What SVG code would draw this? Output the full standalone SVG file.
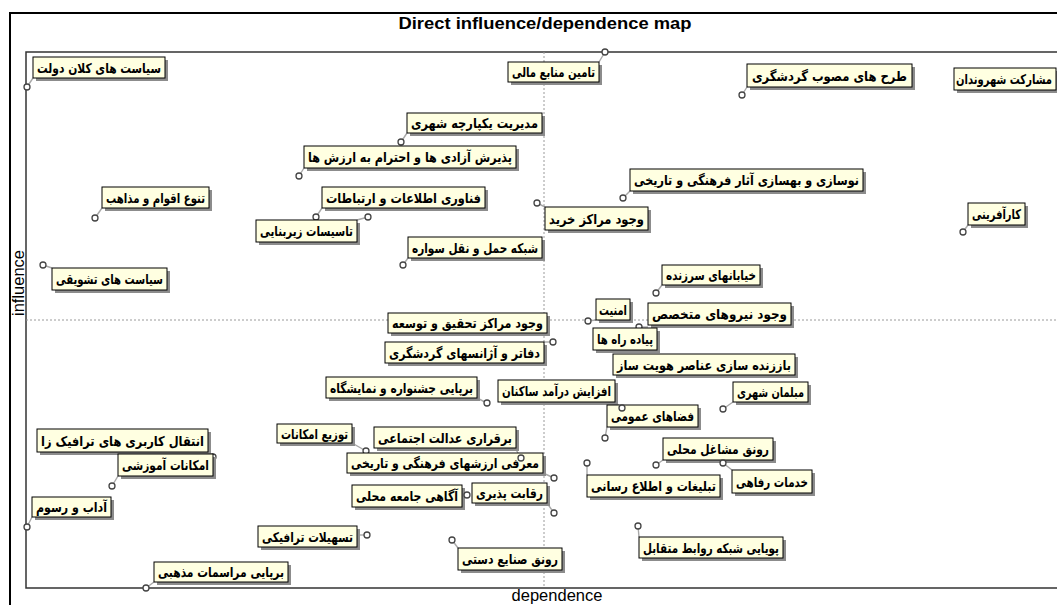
<svg xmlns="http://www.w3.org/2000/svg" width="1057" height="605" viewBox="0 0 1057 605">
<style>
.bg{fill:#fff}
.frame{fill:none;stroke:#000;stroke-width:2}
.plot{fill:none;stroke:#333;stroke-width:1.5}
.axis{stroke:#9a9a9a;stroke-width:1;stroke-dasharray:2,2}
.sh{fill:#8c8c8c}
.bx{fill:#FFFFE1;stroke:#000;stroke-width:1}
.t{font-family:"DejaVu Sans",sans-serif;font-size:13.5px;font-weight:bold;fill:#000;text-anchor:middle;direction:rtl}
.pt{fill:#fff;stroke:#444;stroke-width:1.3}
.ld{stroke:#a8a8a8;stroke-width:1.4}
.ttl{font-family:"Liberation Sans",Arial,sans-serif;font-weight:bold;font-size:16.5px;fill:#000;text-anchor:middle}
.ax{font-family:"Liberation Sans",Arial,sans-serif;font-size:16.5px;fill:#000;text-anchor:middle}
</style>
<rect class="bg" x="0" y="0" width="1057" height="605"/>
<path class="frame" d="M1070,13 H10 V620"/>
<text class="ttl" x="545" y="29" textLength="293" lengthAdjust="spacingAndGlyphs">Direct influence/dependence map</text>
<path class="plot" d="M1070,52 H26 V588 H1070"/>
<line class="axis" x1="544" y1="52" x2="544" y2="588"/>
<line class="axis" x1="26" y1="320" x2="1057" y2="320"/>
<text class="ax" transform="translate(23.5,283) rotate(-90)">influence</text>
<text class="ax" x="557" y="601">dependence</text>
<g id="connectors">
<line class="ld" x1="27" y1="87" x2="33" y2="78"/>
<line class="ld" x1="605" y1="52" x2="599" y2="62"/>
<line class="ld" x1="742" y1="95" x2="747" y2="87"/>
<line class="ld" x1="401" y1="142" x2="407" y2="133"/>
<line class="ld" x1="299" y1="176" x2="304" y2="168"/>
<line class="ld" x1="623" y1="198" x2="630" y2="191"/>
<line class="ld" x1="95" y1="218" x2="102" y2="208"/>
<line class="ld" x1="316" y1="217" x2="322" y2="208"/>
<line class="ld" x1="368" y1="217" x2="357" y2="220"/>
<line class="ld" x1="537" y1="203" x2="545" y2="207"/>
<line class="ld" x1="963" y1="232" x2="968" y2="225"/>
<line class="ld" x1="403" y1="265" x2="408" y2="258"/>
<line class="ld" x1="43" y1="265" x2="52" y2="268"/>
<line class="ld" x1="656" y1="293" x2="662" y2="285"/>
<line class="ld" x1="588" y1="321" x2="596" y2="320"/>
<line class="ld" x1="639" y1="327" x2="648" y2="327"/>
<line class="ld" x1="553" y1="342" x2="544" y2="342"/>
<line class="ld" x1="487" y1="403" x2="477" y2="398"/>
<line class="ld" x1="622" y1="408" x2="615" y2="402"/>
<line class="ld" x1="723" y1="409" x2="733" y2="402"/>
<line class="ld" x1="605" y1="438" x2="607" y2="427"/>
<line class="ld" x1="213" y1="457" x2="208" y2="452"/>
<line class="ld" x1="366" y1="451" x2="352" y2="443"/>
<line class="ld" x1="521" y1="458" x2="515" y2="448"/>
<line class="ld" x1="656" y1="465" x2="663" y2="460"/>
<line class="ld" x1="112" y1="486" x2="118" y2="476"/>
<line class="ld" x1="554" y1="478" x2="543" y2="473"/>
<line class="ld" x1="723" y1="463" x2="732" y2="470"/>
<line class="ld" x1="587" y1="463" x2="587" y2="475"/>
<line class="ld" x1="554" y1="513" x2="547" y2="503"/>
<line class="ld" x1="467" y1="495" x2="462" y2="495"/>
<line class="ld" x1="27" y1="527" x2="32" y2="517"/>
<line class="ld" x1="367" y1="535" x2="357" y2="535"/>
<line class="ld" x1="452" y1="540" x2="458" y2="548"/>
<line class="ld" x1="638" y1="526" x2="639" y2="537"/>
<line class="ld" x1="146" y1="588" x2="154" y2="582"/>
</g>
<g id="n1"><rect class="sh" x="36" y="60" width="132" height="21"/><rect class="bx" x="33" y="57" width="132" height="21"/><text class="t" x="99" y="72.5" textLength="124" lengthAdjust="spacingAndGlyphs">سیاست های کلان دولت</text><circle class="pt" cx="27" cy="87" r="3"/></g>
<g id="n2"><rect class="sh" x="511" y="65" width="91" height="20"/><rect class="bx" x="508" y="62" width="91" height="20"/><text class="t" x="553.5" y="77" textLength="83" lengthAdjust="spacingAndGlyphs">تامین منابع مالی</text><circle class="pt" cx="605" cy="52" r="3"/></g>
<g id="n3"><rect class="sh" x="750" y="67" width="165" height="23"/><rect class="bx" x="747" y="64" width="165" height="23"/><text class="t" x="829.5" y="80.5" textLength="155" lengthAdjust="spacingAndGlyphs">طرح های مصوب گردشگری</text><circle class="pt" cx="742" cy="95" r="3"/></g>
<g id="n4"><rect class="sh" x="957" y="71" width="100" height="22"/><rect class="bx" x="954" y="68" width="102" height="22"/><text class="t" x="1004" y="84" textLength="96" lengthAdjust="spacingAndGlyphs">مشارکت شهروندان</text></g>
<g id="n5"><rect class="sh" x="410" y="116" width="135" height="20"/><rect class="bx" x="407" y="113" width="135" height="20"/><text class="t" x="474.5" y="128" textLength="127" lengthAdjust="spacingAndGlyphs">مدیریت یکپارچه شهری</text><circle class="pt" cx="401" cy="142" r="3"/></g>
<g id="n6"><rect class="sh" x="307" y="149" width="212" height="22"/><rect class="bx" x="304" y="146" width="212" height="22"/><text class="t" x="410" y="162" textLength="204" lengthAdjust="spacingAndGlyphs">پذیرش آزادی ها و احترام به ارزش ها</text><circle class="pt" cx="299" cy="176" r="3"/></g>
<g id="n7"><rect class="sh" x="633" y="172" width="233" height="22"/><rect class="bx" x="630" y="169" width="233" height="22"/><text class="t" x="746.5" y="185" textLength="225" lengthAdjust="spacingAndGlyphs">نوسازی و بهسازی آثار فرهنگی و تاریخی</text><circle class="pt" cx="623" cy="198" r="3"/></g>
<g id="n8"><rect class="sh" x="105" y="190" width="107" height="21"/><rect class="bx" x="102" y="187" width="107" height="21"/><text class="t" x="155.5" y="202.5" textLength="99" lengthAdjust="spacingAndGlyphs">تنوع اقوام و مذاهب</text><circle class="pt" cx="95" cy="218" r="3"/></g>
<g id="n9"><rect class="sh" x="325" y="190" width="163" height="21"/><rect class="bx" x="322" y="187" width="163" height="21"/><text class="t" x="403.5" y="202.5" textLength="155" lengthAdjust="spacingAndGlyphs">فناوری اطلاعات و ارتباطات</text><circle class="pt" cx="316" cy="217" r="3"/></g>
<g id="n10"><rect class="sh" x="259" y="223" width="101" height="22"/><rect class="bx" x="256" y="220" width="101" height="22"/><text class="t" x="306.5" y="236" textLength="93" lengthAdjust="spacingAndGlyphs">تاسیسات زیربنایی</text><circle class="pt" cx="368" cy="217" r="3"/></g>
<g id="n11"><rect class="sh" x="548" y="210" width="103" height="23"/><rect class="bx" x="545" y="207" width="103" height="23"/><text class="t" x="596.5" y="223.5" textLength="95" lengthAdjust="spacingAndGlyphs">وجود مراکز خرید</text><circle class="pt" cx="537" cy="203" r="3"/></g>
<g id="n12"><rect class="sh" x="971" y="206" width="57" height="22"/><rect class="bx" x="968" y="203" width="57" height="22"/><text class="t" x="996.5" y="219" textLength="49" lengthAdjust="spacingAndGlyphs">کارآفرینی</text><circle class="pt" cx="963" cy="232" r="3"/></g>
<g id="n13"><rect class="sh" x="411" y="240" width="134" height="21"/><rect class="bx" x="408" y="237" width="134" height="21"/><text class="t" x="475" y="252.5" textLength="126" lengthAdjust="spacingAndGlyphs">شبکه حمل و نقل سواره</text><circle class="pt" cx="403" cy="265" r="3"/></g>
<g id="n14"><rect class="sh" x="55" y="271" width="115" height="22"/><rect class="bx" x="52" y="268" width="115" height="22"/><text class="t" x="109.5" y="284" textLength="107" lengthAdjust="spacingAndGlyphs">سیاست های تشویقی</text><circle class="pt" cx="43" cy="265" r="3"/></g>
<g id="n15"><rect class="sh" x="665" y="268" width="98" height="20"/><rect class="bx" x="662" y="265" width="98" height="20"/><text class="t" x="711" y="280" textLength="90" lengthAdjust="spacingAndGlyphs">خیابانهای سرزنده</text><circle class="pt" cx="656" cy="293" r="3"/></g>
<g id="n16"><rect class="sh" x="599" y="302" width="34" height="21"/><rect class="bx" x="596" y="299" width="34" height="21"/><text class="t" x="613" y="314.5" textLength="28" lengthAdjust="spacingAndGlyphs">امنیت</text><circle class="pt" cx="588" cy="321" r="3"/></g>
<g id="n17"><rect class="sh" x="651" y="306" width="143" height="22"/><rect class="bx" x="648" y="303" width="143" height="22"/><text class="t" x="719.5" y="319" textLength="135" lengthAdjust="spacingAndGlyphs">وجود نیروهای متخصص</text><circle class="pt" cx="639" cy="327" r="3"/></g>
<g id="n18"><rect class="sh" x="391" y="316" width="159" height="20"/><rect class="bx" x="388" y="313" width="159" height="20"/><text class="t" x="467.5" y="328" textLength="151" lengthAdjust="spacingAndGlyphs">وجود مراکز تحقیق و توسعه</text></g>
<g id="n19"><rect class="sh" x="596" y="331" width="64" height="22"/><rect class="bx" x="593" y="328" width="64" height="22"/><text class="t" x="625" y="344" textLength="56" lengthAdjust="spacingAndGlyphs">پیاده راه ها</text></g>
<g id="n20"><rect class="sh" x="388" y="345" width="159" height="21"/><rect class="bx" x="385" y="342" width="159" height="21"/><text class="t" x="464.5" y="357.5" textLength="151" lengthAdjust="spacingAndGlyphs">دفاتر و آژانسهای گردشگری</text><circle class="pt" cx="553" cy="342" r="3"/></g>
<g id="n21"><rect class="sh" x="616" y="357" width="182" height="21"/><rect class="bx" x="613" y="354" width="182" height="21"/><text class="t" x="704" y="369.5" textLength="174" lengthAdjust="spacingAndGlyphs">باززنده سازی عناصر هویت ساز</text></g>
<g id="n22"><rect class="sh" x="329" y="380" width="151" height="21"/><rect class="bx" x="326" y="377" width="151" height="21"/><text class="t" x="401.5" y="392.5" textLength="143" lengthAdjust="spacingAndGlyphs">برپایی جشنواره و نمایشگاه</text><circle class="pt" cx="487" cy="403" r="3"/></g>
<g id="n23"><rect class="sh" x="501" y="383" width="117" height="22"/><rect class="bx" x="498" y="380" width="117" height="22"/><text class="t" x="556.5" y="396" textLength="109" lengthAdjust="spacingAndGlyphs">افزایش درآمد ساکنان</text></g>
<g id="n24"><rect class="sh" x="736" y="385" width="75" height="20"/><rect class="bx" x="733" y="382" width="75" height="20"/><text class="t" x="770.5" y="397" textLength="67" lengthAdjust="spacingAndGlyphs">مبلمان شهری</text><circle class="pt" cx="723" cy="409" r="3"/></g>
<g id="n25"><rect class="sh" x="610" y="408" width="91" height="22"/><rect class="bx" x="607" y="405" width="91" height="22"/><text class="t" x="652.5" y="421" textLength="83" lengthAdjust="spacingAndGlyphs">فضاهای عمومی</text><circle class="pt" cx="605" cy="438" r="3"/><circle class="pt" cx="622" cy="408" r="3"/></g>
<g id="n26"><rect class="sh" x="40" y="432" width="171" height="23"/><rect class="bx" x="37" y="429" width="171" height="23"/><text class="t" x="122.5" y="445.5" textLength="163" lengthAdjust="spacingAndGlyphs">انتقال کاربری های ترافیک زا</text><circle class="pt" cx="213" cy="457" r="3"/></g>
<g id="n27"><rect class="sh" x="280" y="427" width="75" height="19"/><rect class="bx" x="277" y="424" width="75" height="19"/><text class="t" x="314.5" y="438.5" textLength="67" lengthAdjust="spacingAndGlyphs">توزیع امکانات</text><circle class="pt" cx="366" cy="451" r="3"/></g>
<g id="n28"><rect class="sh" x="377" y="430" width="142" height="21"/><rect class="bx" x="374" y="427" width="142" height="21"/><text class="t" x="445" y="442.5" textLength="134" lengthAdjust="spacingAndGlyphs">برقراری عدالت اجتماعی</text></g>
<g id="n29"><rect class="sh" x="666" y="441" width="110" height="22"/><rect class="bx" x="663" y="438" width="110" height="22"/><text class="t" x="718" y="454" textLength="102" lengthAdjust="spacingAndGlyphs">رونق مشاغل محلی</text><circle class="pt" cx="656" cy="465" r="3"/></g>
<g id="n30"><rect class="sh" x="121" y="457" width="95" height="22"/><rect class="bx" x="118" y="454" width="95" height="22"/><text class="t" x="165.5" y="470" textLength="87" lengthAdjust="spacingAndGlyphs">امکانات آموزشی</text><circle class="pt" cx="112" cy="486" r="3"/></g>
<g id="n31"><rect class="sh" x="350" y="456" width="196" height="20"/><rect class="bx" x="347" y="453" width="196" height="20"/><text class="t" x="445" y="468" textLength="188" lengthAdjust="spacingAndGlyphs">معرفی ارزشهای فرهنگی و تاریخی</text><circle class="pt" cx="521" cy="458" r="3"/><circle class="pt" cx="554" cy="478" r="3"/></g>
<g id="n32"><rect class="sh" x="735" y="473" width="80" height="23"/><rect class="bx" x="732" y="470" width="80" height="23"/><text class="t" x="772" y="486.5" textLength="72" lengthAdjust="spacingAndGlyphs">خدمات رفاهی</text><circle class="pt" cx="723" cy="463" r="3"/></g>
<g id="n33"><rect class="sh" x="590" y="478" width="133" height="22"/><rect class="bx" x="587" y="475" width="133" height="22"/><text class="t" x="653.5" y="491" textLength="125" lengthAdjust="spacingAndGlyphs">تبلیغات و اطلاع رسانی</text><circle class="pt" cx="587" cy="463" r="3"/></g>
<g id="n34"><rect class="sh" x="475" y="486" width="75" height="20"/><rect class="bx" x="472" y="483" width="75" height="20"/><text class="t" x="509.5" y="498" textLength="67" lengthAdjust="spacingAndGlyphs">رقابت پذیری</text><circle class="pt" cx="554" cy="513" r="3"/></g>
<g id="n35"><rect class="sh" x="355" y="488" width="110" height="22"/><rect class="bx" x="352" y="485" width="110" height="22"/><text class="t" x="407" y="501" textLength="102" lengthAdjust="spacingAndGlyphs">آگاهی جامعه محلی</text><circle class="pt" cx="467" cy="495" r="3"/></g>
<g id="n36"><rect class="sh" x="35" y="500" width="79" height="20"/><rect class="bx" x="32" y="497" width="79" height="20"/><text class="t" x="71.5" y="512" textLength="71" lengthAdjust="spacingAndGlyphs">آداب و رسوم</text><circle class="pt" cx="27" cy="527" r="3"/></g>
<g id="n37"><rect class="sh" x="261" y="529" width="99" height="21"/><rect class="bx" x="258" y="526" width="99" height="21"/><text class="t" x="307.5" y="541.5" textLength="91" lengthAdjust="spacingAndGlyphs">تسهیلات ترافیکی</text><circle class="pt" cx="367" cy="535" r="3"/></g>
<g id="n38"><rect class="sh" x="461" y="551" width="104" height="22"/><rect class="bx" x="458" y="548" width="104" height="22"/><text class="t" x="510" y="564" textLength="96" lengthAdjust="spacingAndGlyphs">رونق صنایع دستی</text><circle class="pt" cx="452" cy="540" r="3"/></g>
<g id="n39"><rect class="sh" x="642" y="540" width="144" height="21"/><rect class="bx" x="639" y="537" width="144" height="21"/><text class="t" x="711" y="552.5" textLength="136" lengthAdjust="spacingAndGlyphs">پویایی شبکه روابط متقابل</text><circle class="pt" cx="638" cy="526" r="3"/></g>
<g id="n40"><rect class="sh" x="157" y="565" width="134" height="20"/><rect class="bx" x="154" y="562" width="134" height="20"/><text class="t" x="221" y="577" textLength="126" lengthAdjust="spacingAndGlyphs">برپایی مراسمات مذهبی</text><circle class="pt" cx="146" cy="588" r="3"/></g>
</svg>
